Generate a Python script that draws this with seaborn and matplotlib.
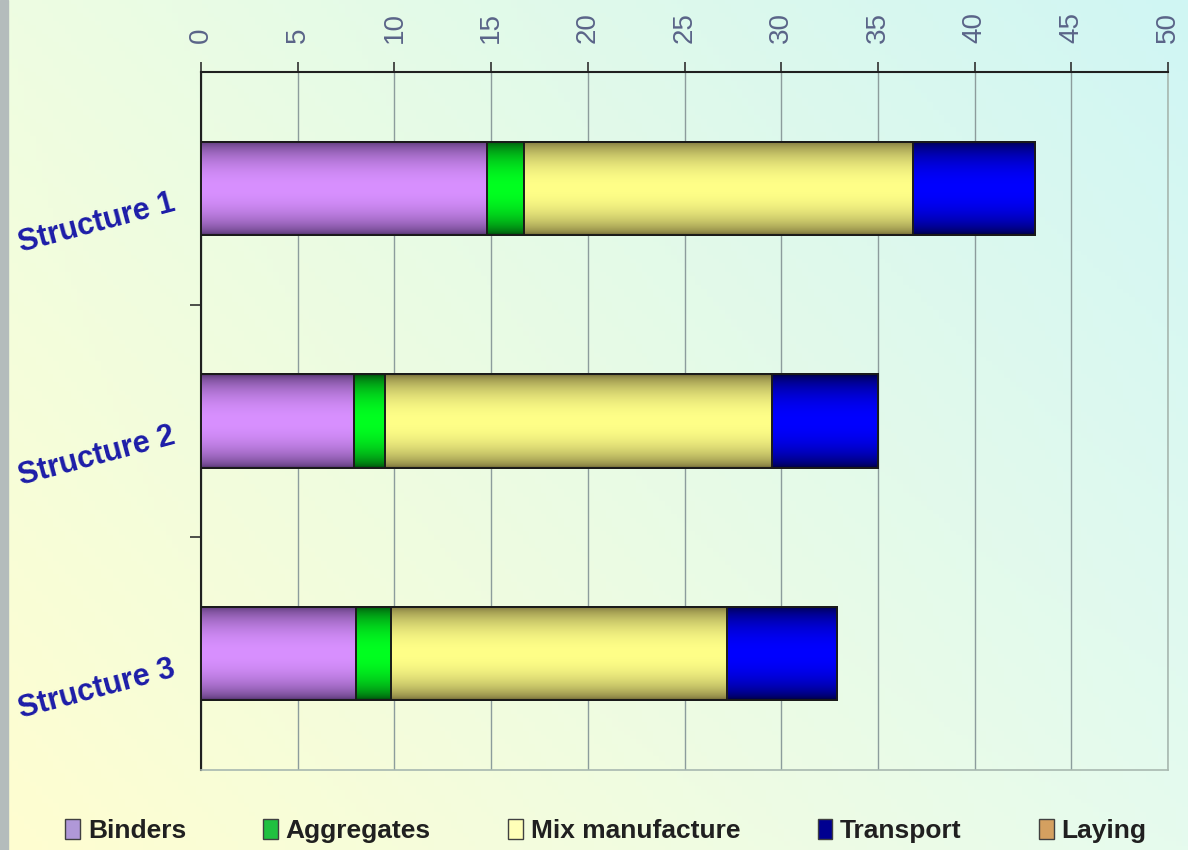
import numpy as np
import pandas as pd
import matplotlib
matplotlib.use("Agg")
import matplotlib.pyplot as plt
import matplotlib.colors as mcolors
import matplotlib.transforms as mtransforms
import seaborn as sns
from matplotlib.patches import Patch, Rectangle

# data
structures = ["Structure 1", "Structure 2", "Structure 3"]
components = ["Binders", "Aggregates", "Mix manufacture", "Transport", "Laying"]
binders = [14.8, 7.9, 8.0]
aggregates = [1.9, 1.6, 1.8]
mix_manufacture = [20.1, 20.0, 17.4]
transport = [6.3, 5.5, 5.7]
laying = [0.0, 0.0, 0.0]
x_ticks = list(range(0, 51, 5))

# (dark edge, light centre) colours for the cylinder look
bar_shades = {
    "Binders": ("#553570", "#d890ff"),
    "Aggregates": ("#004a0c", "#00ff20"),
    "Mix manufacture": ("#746c38", "#ffff88"),
    "Transport": ("#000040", "#0000ff"),
    "Laying": ("#6a4a20", "#e8b070"),
}
legend_colors = ["#b098d8", "#20c040", "#ffffb8", "#000090", "#d4a060"]


def shade_bars(ax, patches, dark, light, z):
    """Paint a vertical dark-light-dark gradient inside each bar patch."""
    t = np.linspace(0, 1, 64)
    f = np.sin(np.pi * t) ** 0.6
    d = np.array(mcolors.to_rgb(dark))
    l = np.array(mcolors.to_rgb(light))
    img = (d[None, :] * (1 - f[:, None]) + l[None, :] * f[:, None])[:, None, :]
    for p in patches:
        x0, y0 = p.get_x(), p.get_y()
        w, h = p.get_width(), p.get_height()
        if w <= 0:
            continue
        im = ax.imshow(img, extent=[x0, x0 + w, y0 + h, y0], aspect="auto",
                       zorder=z, interpolation="bilinear")
        im.set_clip_path(p)
        p.set_facecolor("none")
        p.set_edgecolor("#1a1a1a")
        p.set_linewidth(1.4)
        p.set_zorder(z + 0.5)


sns.set_style("white")
plt.rcParams["font.family"] = ["Liberation Sans", "DejaVu Sans"]

df = pd.DataFrame({
    "Binders": binders,
    "Aggregates": aggregates,
    "Mix manufacture": mix_manufacture,
    "Transport": transport,
    "Laying": laying,
}, index=structures)
cum = df.cumsum(axis=1)

fig = plt.figure(figsize=(11.88, 8.5), dpi=100)

# diagonal pale yellow -> pale cyan background
bg = fig.add_axes([0, 0, 1, 1], zorder=-10)
tl, tr = np.array(mcolors.to_rgb("#eefde2")), np.array(mcolors.to_rgb("#d0f6f4"))
bl, br = np.array(mcolors.to_rgb("#fffed0")), np.array(mcolors.to_rgb("#e6fbee"))
u = np.linspace(0, 1, 200)[None, :, None]
v = np.linspace(0, 1, 200)[:, None, None]
grad = (1 - v) * ((1 - u) * tl + u * tr) + v * ((1 - u) * bl + u * br)
bg.imshow(grad, extent=[0, 1, 0, 1], aspect="auto", origin="upper")
bg.add_patch(Rectangle((0, 0), 8 / 1188, 1, color="#b4bcbc", transform=bg.transAxes))
bg.axis("off")

ax = fig.add_axes([0.1692, 0.0941, 0.814, 0.8212])
ax.set_facecolor("none")

# stacked bars: draw cumulative totals from the outermost segment inwards
z = 2
for comp in reversed(components):
    n_before = len(ax.patches)
    sns.barplot(x=cum[comp].values, y=structures, orient="h", width=0.4,
                color=bar_shades[comp][1], ax=ax)
    new = ax.patches[n_before:]
    shade_bars(ax, new, *bar_shades[comp], z)
    z += 1

ax.set_xlim(0, 50)
ax.set_ylim(2.5, -0.5)
ax.set_xlabel("")
ax.set_ylabel("")

ax.xaxis.tick_top()
ax.set_xticks(x_ticks)
ax.set_xticklabels([str(t) for t in x_ticks])
ax.tick_params(axis="x", which="major", direction="out", length=7, width=1.2,
               pad=14, labelsize=20, labelcolor="#5a6488", labelrotation=90,
               color="#303030", bottom=False, top=True)
ax.grid(axis="x", color="#8c9c9c", lw=1.0)
ax.grid(axis="y", visible=False)
ax.set_axisbelow(True)

ax.set_yticks([0, 1, 2])
ax.set_yticklabels(structures, rotation=15, ha="right", va="top",
                   rotation_mode="anchor", fontsize=22, fontweight="bold",
                   color="#1c1ca8")
# nudge the slanted category labels a little below the bar centre
shift = mtransforms.ScaledTranslation(0, -11 / 72, fig.dpi_scale_trans)
for lbl in ax.get_yticklabels():
    lbl.set_transform(lbl.get_transform() + shift)
ax.set_yticks([0.5, 1.5], minor=True)
ax.tick_params(axis="y", which="major", length=0, pad=22)
ax.tick_params(axis="y", which="minor", length=8, width=1.2, direction="out",
               color="#303030", left=True)

for side in ["top", "left"]:
    ax.spines[side].set_color("#202020")
    ax.spines[side].set_linewidth(1.5)
for side in ["bottom", "right"]:
    ax.spines[side].set_color("#a8b8b0")
    ax.spines[side].set_linewidth(1.2)

handles = [Patch(facecolor=c, edgecolor="#404040", lw=1.0) for c in legend_colors]
fig.legend(handles, components, loc="center left",
           bbox_to_anchor=(0.035, 0.022, 0.95, 0.0), mode="expand",
           ncol=5, frameon=False, handlelength=0.55, handleheight=0.75,
           handletextpad=0.3, columnspacing=2.0, labelcolor="#202020",
           prop={"size": 19, "weight": "bold"})

fig.savefig("out.png", dpi=100)
